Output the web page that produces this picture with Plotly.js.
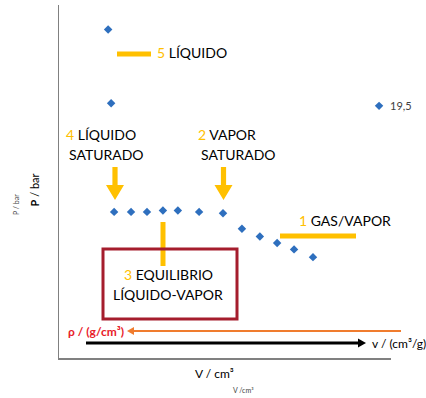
<!DOCTYPE html>
<html>
<head>
<meta charset="utf-8">
<script src="https://cdn.plot.ly/plotly-3.0.1.min.js"></script>
<style>html,body{margin:0;padding:0;background:#fff;}#chart{width:426px;height:398px;}</style>
</head>
<body>
<div id="chart"></div>
<script>
// Data (arbitrary volume units, pressure in bar)
const volume   = [14.8, 15.7, 16.6, 21.7, 26.5, 31.3, 35.8, 42.2, 49.4, 55.1, 60.5, 65.7, 70.8, 76.5, 96.4];
const pressure = [25.4, 19.7, 11.3, 11.3, 11.3, 11.4, 11.4, 11.3, 11.2, 10.0, 9.4, 8.9, 8.4, 7.8, 19.5];
const pointLabels = ['', '', '', '', '', '', '', '', '', '', '', '', '', '', '19,5'];

const FONT = 'Lato, "Open Sans", sans-serif';
const YEL = '#FFC000';
const L = 59, R = 391, T = 5, B = 358;
const X = px => (px - L) / (R - L);
const Y = py => (B - py) / (B - T);

function arrowDown(cx) {
  const pts = [[cx-2.6,167],[cx+2.6,167],[cx+2.6,185],[cx+9,185],[cx,200],[cx-9,185],[cx-2.6,185]];
  return 'M ' + pts.map(p => X(p[0]) + ',' + Y(p[1])).join(' L ') + ' Z';
}
function headPath(tipX, tipY, dir, len, half) {
  const bx = tipX - dir*len;
  return 'M ' + X(tipX) + ',' + Y(tipY) + ' L ' + X(bx) + ',' + Y(tipY-half) + ' L ' + X(bx) + ',' + Y(tipY+half) + ' Z';
}

const shapes = [
  {type:'line', xref:'paper', yref:'paper', x0:X(117), x1:X(151), y0:Y(54), y1:Y(54), line:{color:YEL, width:5}},
  {type:'path', xref:'paper', yref:'paper', path:arrowDown(115), fillcolor:YEL, line:{width:0}},
  {type:'path', xref:'paper', yref:'paper', path:arrowDown(223.5), fillcolor:YEL, line:{width:0}},
  {type:'line', xref:'paper', yref:'paper', x0:X(163), x1:X(163), y0:Y(222), y1:Y(266), line:{color:YEL, width:5}},
  {type:'line', xref:'paper', yref:'paper', x0:X(280), x1:X(356), y0:Y(236), y1:Y(236), line:{color:YEL, width:5}},
  {type:'rect', xref:'paper', yref:'paper', x0:X(103), x1:X(237), y0:Y(249), y1:Y(319), line:{color:'#A51D2D', width:3}},
  {type:'line', xref:'paper', yref:'paper', x0:X(133), x1:X(401), y0:Y(331), y1:Y(331), line:{color:'#F07C2E', width:2}},
  {type:'path', xref:'paper', yref:'paper', path:headPath(127, 331, -1, 7, 4), fillcolor:'#F07C2E', line:{width:0}},
  {type:'line', xref:'paper', yref:'paper', x0:X(86), x1:X(359), y0:Y(343), y1:Y(343), line:{color:'#000', width:3}},
  {type:'path', xref:'paper', yref:'paper', path:headPath(366, 343, 1, 8, 4.5), fillcolor:'#000', line:{width:0}}
];

function ann(text, cx, cy, size, color, extra) {
  return Object.assign({xref:'paper', yref:'paper', x:X(cx), y:Y(cy), xanchor:'center', yanchor:'middle',
    text:text, showarrow:false, font:{family:FONT, size:size, color:color||'#000'}}, extra||{});
}
const annotations = [
  ann('<span style="color:'+YEL+'">5</span> LÍQUIDO', 191.5, 52, 14),
  ann('<span style="color:'+YEL+'">4</span> LÍQUIDO', 101, 134, 14),
  ann('SATURADO', 106.5, 154, 14),
  ann('<span style="color:'+YEL+'">2</span> VAPOR', 227, 134, 14),
  ann('SATURADO', 238, 154, 14),
  ann('<span style="color:'+YEL+'">1</span> GAS/VAPOR', 345, 221, 14),
  ann('<span style="color:'+YEL+'">3</span> EQUILIBRIO', 168, 274, 14),
  ann('LÍQUIDO-VAPOR', 167.5, 294, 14),
  ann('<b>ρ / (g/cm³)</b>', 95.5, 331, 12, '#E8202A'),
  ann('v / (cm³/g)', 399, 343, 12, '#000'),
  ann('<b>P</b> / bar', 33.5, 190, 11, '#000', {textangle:-90}),
  ann('P / bar', 16, 205, 7, '#444', {textangle:-90}),
  ann('V / cm³', 214.5, 373, 12, '#000'),
  ann('V /cm³', 243, 390, 7, '#444')
];
// data label of the last point
pointLabels.forEach((t, i) => {
  if (t) annotations.push({xref:'x', yref:'y', x:volume[i], y:pressure[i], text:t, showarrow:false,
    xanchor:'left', yanchor:'middle', xshift:9, font:{family:FONT, size:11, color:'#404040'}});
});

const trace = {
  x: volume, y: pressure,
  type:'scatter', mode:'markers',
  marker:{symbol:'diamond', size:6.5, color:'#2E6FBE'},
  cliponaxis:false, hoverinfo:'x+y'
};

const layout = {
  width:426, height:398,
  margin:{l:L, r:426-R, t:T, b:398-B},
  paper_bgcolor:'#fff', plot_bgcolor:'#fff',
  showlegend:false,
  xaxis:{range:[0,100], showline:true, linecolor:'#808080', linewidth:1.5, showgrid:false, zeroline:false, showticklabels:false, ticks:''},
  yaxis:{range:[0,27.3], showline:true, linecolor:'#808080', linewidth:1.5, showgrid:false, zeroline:false, showticklabels:false, ticks:''},
  shapes:shapes, annotations:annotations,
  font:{family:FONT}
};
Plotly.newPlot('chart', [trace], layout, {displayModeBar:false, staticPlot:true});
</script>
</body>
</html>
